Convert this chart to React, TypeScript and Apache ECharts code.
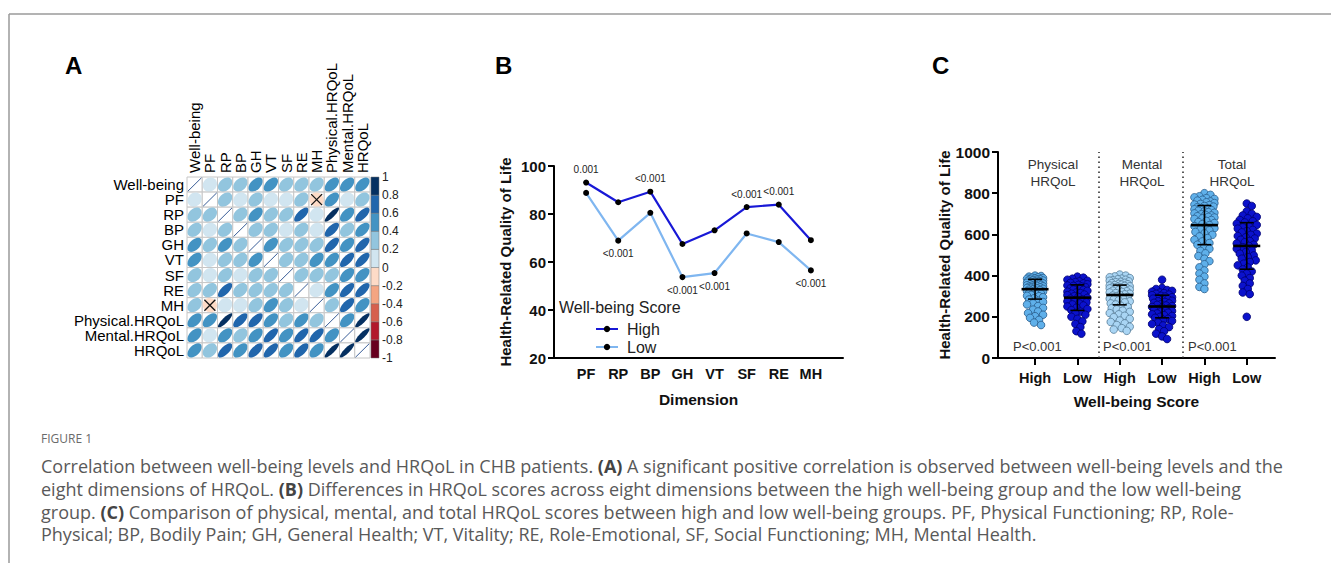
import React, { useEffect, useRef } from "react";
import * as echarts from "echarts";

const SANS = "'Liberation Sans', Arial, Helvetica, sans-serif";
const CAPFONT = "'Open Sans', 'Noto Sans', sans-serif";

// ---------- Panel A : correlation matrix ----------
const corrLabels = ["Well-being", "PF", "RP", "BP", "GH", "VT", "SF", "RE", "MH", "Physical.HRQoL", "Mental.HRQoL", "HRQoL"];
const corrMatrix = [
  [1, 0.12, 0.32, 0.32, 0.48, 0.48, 0.32, 0.32, 0.32, 0.48, 0.48, 0.48],
  [0.12, 1, 0.32, 0.12, 0.3, 0.12, 0.12, 0.3, -0.05, 0.5, 0.12, 0.3],
  [0.32, 0.32, 1, 0.32, 0.48, 0.32, 0.32, 0.68, 0.12, 0.86, 0.5, 0.68],
  [0.32, 0.12, 0.32, 1, 0.3, 0.3, 0.12, 0.3, 0.12, 0.66, 0.34, 0.5],
  [0.48, 0.3, 0.48, 0.3, 1, 0.48, 0.3, 0.3, 0.3, 0.66, 0.5, 0.66],
  [0.48, 0.12, 0.32, 0.3, 0.48, 1, 0.3, 0.3, 0.46, 0.5, 0.68, 0.68],
  [0.32, 0.12, 0.32, 0.12, 0.3, 0.3, 1, 0.3, 0.3, 0.36, 0.5, 0.5],
  [0.32, 0.3, 0.68, 0.3, 0.3, 0.3, 0.3, 1, 0.14, 0.5, 0.68, 0.66],
  [0.32, -0.05, 0.12, 0.12, 0.3, 0.46, 0.3, 0.14, 1, 0.32, 0.68, 0.5],
  [0.48, 0.5, 0.86, 0.66, 0.66, 0.5, 0.36, 0.5, 0.32, 1, 0.5, 0.86],
  [0.48, 0.12, 0.5, 0.34, 0.5, 0.68, 0.5, 0.68, 0.68, 0.5, 1, 0.86],
  [0.48, 0.3, 0.68, 0.5, 0.66, 0.68, 0.5, 0.66, 0.5, 0.86, 0.86, 1],
];
const insignificantPairs = [[1, 8], [8, 1]];
const colorBreaks = [-1, -0.8, -0.6, -0.4, -0.2, 0, 0.2, 0.4, 0.6, 0.8, 1];
const binColors = ["#67001F", "#B2182B", "#D6604D", "#F4A582", "#FDDBC7", "#D1E5F0", "#92C5DE", "#4393C3", "#2166AC", "#053061"];

// ---------- Panel B : line chart ----------
const dimensions = ["PF", "RP", "BP", "GH", "VT", "SF", "RE", "MH"];
const highScores = [93.1, 84.9, 89.3, 67.5, 73.2, 82.9, 83.9, 69.1];
const lowScores = [88.8, 68.9, 80.5, 53.7, 55.4, 71.9, 68.3, 56.5];
const pValues = ["0.001", "<0.001", "<0.001", "<0.001", "<0.001", "<0.001", "<0.001", "<0.001"];
const pLabelOn = ["High", "Low", "High", "Low", "Low", "High", "High", "Low"];

// ---------- Panel C : dot plots ----------
const groupCats = ["High", "Low", "High", "Low", "High", "Low"];
const domainNames = ["Physical\nHRQoL", "Mental\nHRQoL", "Total\nHRQoL"];
const domainPs = ["P<0.001", "P<0.001", "P<0.001"];
const physicalHigh = [400, 398, 395, 392, 390, 388, 386, 385, 383, 381, 380, 378, 376, 375, 373, 372, 370, 368, 366, 365, 363, 362, 360, 358, 356, 355, 353, 351, 350, 348, 346, 345, 343, 341, 340, 338, 336, 334, 332, 330, 328, 326, 324, 322, 320, 318, 315, 312, 310, 306, 302, 300, 295, 290, 284, 278, 272, 265, 260, 252, 243, 235, 226, 218, 210, 203, 195, 185, 172, 160];
const physicalLow = [395, 390, 385, 380, 375, 372, 368, 365, 362, 358, 355, 352, 350, 347, 344, 340, 338, 335, 332, 330, 326, 322, 318, 315, 312, 308, 305, 300, 296, 292, 288, 284, 280, 275, 270, 265, 260, 255, 250, 244, 238, 232, 225, 218, 210, 200, 190, 178, 165, 150, 130, 118];
const mentalHigh = [405, 400, 396, 392, 388, 385, 382, 380, 377, 375, 372, 370, 368, 365, 363, 360, 358, 356, 354, 352, 350, 348, 346, 344, 342, 340, 338, 336, 334, 332, 330, 327, 324, 321, 318, 315, 312, 309, 306, 303, 300, 296, 292, 288, 284, 280, 275, 270, 265, 260, 254, 248, 242, 236, 230, 224, 218, 212, 205, 198, 190, 182, 175, 168, 160, 152, 145, 138, 132];
const mentalLow = [380, 340, 335, 330, 326, 322, 318, 315, 312, 308, 305, 302, 298, 295, 292, 288, 285, 282, 278, 275, 272, 268, 265, 262, 258, 255, 252, 248, 245, 242, 238, 235, 232, 228, 225, 220, 216, 212, 208, 204, 200, 195, 190, 185, 180, 172, 165, 158, 150, 140, 130, 118, 105, 92];
const totalHigh = [800, 792, 785, 780, 776, 772, 768, 764, 760, 756, 752, 748, 745, 742, 738, 735, 732, 728, 725, 722, 718, 715, 712, 708, 705, 702, 698, 695, 692, 688, 685, 682, 678, 675, 670, 665, 660, 655, 650, 645, 640, 635, 630, 625, 620, 612, 605, 598, 590, 582, 574, 566, 558, 550, 540, 530, 520, 508, 495, 482, 470, 455, 440, 425, 410, 395, 380, 362, 345, 335];
const totalLow = [750, 738, 712, 700, 692, 685, 678, 670, 664, 658, 652, 646, 640, 634, 628, 622, 616, 610, 604, 598, 592, 586, 580, 574, 568, 562, 556, 550, 544, 538, 530, 522, 514, 506, 498, 490, 482, 474, 466, 458, 450, 440, 430, 420, 410, 400, 388, 375, 362, 350, 335, 318, 310, 200];
const groupValues = [physicalHigh, physicalLow, mentalHigh, mentalLow, totalHigh, totalLow];
const groupMeans = [334, 293, 306, 250, 645, 544];
const groupSDs = [48, 62, 48, 55, 95, 113];
const groupFill = ["#5fb0ea", "#0b12cc", "#a9d5f4", "#0b12cc", "#5fb0ea", "#0b12cc"];
const groupStroke = ["#2a5d8c", "#000070", "#557c98", "#000070", "#2a5d8c", "#000070"];

// ---------- Caption ----------
const captionTitle = "FIGURE 1";
const captionLines = [
  "Correlation between well-being levels and HRQoL in CHB patients. {b|(A)} A significant positive correlation is observed between well-being levels and the",
  "eight dimensions of HRQoL. {b|(B)} Differences in HRQoL scores across eight dimensions between the high well-being group and the low well-being",
  "group. {b|(C)} Comparison of physical, mental, and total HRQoL scores between high and low well-being groups. PF, Physical Functioning; RP, Role-",
  "Physical; BP, Bodily Pain; GH, General Health; VT, Vitality; RE, Role-Emotional, SF, Social Functioning; MH, Mental Health.",
];

function cellColor(r: number) {
  let i = Math.floor((r + 1) / 0.2);
  if (i > 9) i = 9;
  if (i < 0) i = 0;
  return binColors[i];
}

function renderCell(params: any, api: any) {
  const ci = api.value(0);
  const ri = api.value(1);
  const rho = api.value(2);
  const ins = api.value(3);
  const p = api.coord([ci, ri]);
  const s = api.size([1, 1]);
  const w = s[0];
  const h = s[1];
  const kids: any[] = [
    { type: "rect", shape: { x: p[0] - w / 2, y: p[1] - h / 2, width: w, height: h }, style: { fill: "#fff", stroke: "#c6c6c6", lineWidth: 1 } },
  ];
  if (ci === ri) {
    kids.push({ type: "line", shape: { x1: p[0] - w * 0.45, y1: p[1] + h * 0.45, x2: p[0] + w * 0.45, y2: p[1] - h * 0.45 }, style: { stroke: "#3a5e98", lineWidth: 1 } });
  } else {
    const a = Math.abs(rho);
    kids.push({
      type: "ellipse",
      x: p[0],
      y: p[1],
      rotation: rho >= 0 ? Math.PI / 4 : -Math.PI / 4,
      shape: { cx: 0, cy: 0, rx: w * 0.47 * Math.sqrt(1 + a), ry: h * 0.47 * Math.sqrt(1 - a) },
      style: { fill: cellColor(rho) },
    });
  }
  if (ins) {
    const d = w * 0.36;
    kids.push({ type: "line", shape: { x1: p[0] - d, y1: p[1] - d, x2: p[0] + d, y2: p[1] + d }, style: { stroke: "#111", lineWidth: 1.3 } });
    kids.push({ type: "line", shape: { x1: p[0] - d, y1: p[1] + d, x2: p[0] + d, y2: p[1] - d }, style: { stroke: "#111", lineWidth: 1.3 } });
  }
  return { type: "group", children: kids };
}

function renderBin(params: any, api: any) {
  const lo = api.value(1);
  const hi = api.value(2);
  const idx = api.value(3);
  const a = api.coord([0, lo]);
  const b = api.coord([0, hi]);
  const w = api.size([1, 0])[0];
  return {
    type: "rect",
    shape: { x: a[0] - w / 2, y: b[1], width: w, height: a[1] - b[1] },
    style: { fill: binColors[idx], stroke: "#777", lineWidth: 0.5 },
  };
}

function renderSwarm(params: any, api: any) {
  const gi = params.dataIndex;
  const vals = groupValues[gi].slice().sort((a, b) => b - a);
  const cx = api.coord([gi + 1, 0])[0];
  const r = 3.8;
  const minDist = r * 1.4;
  const maxOff = gi === 0 ? 8.5 : 10;
  const placed: number[][] = [];
  const kids: any[] = [];
  vals.forEach((v, k) => {
    const py = api.coord([gi + 1, v])[1];
    let chosen = 0;
    let bestGap = -1;
    let ok = false;
    for (let s = 0; s <= maxOff && !ok; s += 1) {
      const cands = s === 0 ? [0] : k % 2 ? [s, -s] : [-s, s];
      for (const off of cands) {
        let gap = Infinity;
        for (const q of placed) {
          const dd = Math.hypot(q[0] - off, q[1] - py);
          if (dd < gap) gap = dd;
        }
        if (gap >= minDist) {
          chosen = off;
          ok = true;
          break;
        }
        if (gap > bestGap) {
          bestGap = gap;
          chosen = off;
        }
      }
    }
    placed.push([chosen, py]);
    kids.push({
      type: "circle",
      shape: { cx: cx + chosen, cy: py, r },
      style: { fill: groupFill[gi], stroke: groupStroke[gi], lineWidth: 0.8 },
    });
  });
  return { type: "group", children: kids };
}

function renderMeanSD(params: any, api: any) {
  const x = api.value(0);
  const m = api.value(1);
  const sd = api.value(2);
  const p = api.coord([x, m]);
  const t = api.coord([x, m + sd]);
  const b = api.coord([x, m - sd]);
  const st = { stroke: "#000", lineWidth: 1.6 };
  return {
    type: "group",
    children: [
      { type: "line", shape: { x1: p[0], y1: t[1], x2: p[0], y2: b[1] }, style: st },
      { type: "line", shape: { x1: p[0] - 7, y1: t[1], x2: p[0] + 7, y2: t[1] }, style: st },
      { type: "line", shape: { x1: p[0] - 7, y1: b[1], x2: p[0] + 7, y2: b[1] }, style: st },
      { type: "line", shape: { x1: p[0] - 13.5, y1: p[1], x2: p[0] + 13.5, y2: p[1] }, style: { stroke: "#000", lineWidth: 2.6 } },
    ],
  };
}

function buildOption(): any {
  const cellData: any[] = [];
  corrMatrix.forEach((row, ri) =>
    row.forEach((v, ci) => {
      const ins = insignificantPairs.some((q) => q[0] === ri && q[1] === ci) ? 1 : 0;
      cellData.push([ci, ri, v, ins]);
    })
  );
  const binData = binColors.map((c, i) => [0, colorBreaks[i], colorBreaks[i + 1], i]);

  const axisBlack = { lineStyle: { color: "#000", width: 2 } };
  const boldTick = { fontFamily: SANS, fontWeight: "bold", color: "#111" };

  const lineData = (vals: number[], who: string) => [
    "-",
    ...vals.map((v, i) => ({
      value: v,
      label: { show: pLabelOn[i] === who, position: who === "High" ? "top" : "bottom", formatter: pValues[i] },
    })),
    "-",
  ];

  const graphic: any[] = [
    { type: "line", shape: { x1: 9, y1: 14, x2: 1331, y2: 14 }, style: { stroke: "#9a9a9a", lineWidth: 1.5 } },
    { type: "line", shape: { x1: 9, y1: 14, x2: 9, y2: 563 }, style: { stroke: "#9a9a9a", lineWidth: 1.5 } },
    { type: "text", x: 65, y: 65, style: { text: "A", fontSize: 24, fontWeight: "bold", fontFamily: SANS, fill: "#000", verticalAlign: "middle" } },
    { type: "text", x: 495, y: 65, style: { text: "B", fontSize: 24, fontWeight: "bold", fontFamily: SANS, fill: "#000", verticalAlign: "middle" } },
    { type: "text", x: 932, y: 65, style: { text: "C", fontSize: 24, fontWeight: "bold", fontFamily: SANS, fill: "#000", verticalAlign: "middle" } },
    { type: "text", x: 559, y: 307, style: { text: "Well-being Score", fontSize: 16, fontFamily: SANS, fill: "#222", verticalAlign: "middle" } },
    { type: "text", x: 41, y: 438, style: { text: captionTitle, fontSize: 12, fontFamily: CAPFONT, fill: "#6a6a6a", verticalAlign: "middle" } },
  ];
  const domainX = [1053, 1142, 1232];
  domainNames.forEach((t, i) =>
    graphic.push({ type: "text", x: domainX[i], y: 156, style: { text: t, fontSize: 13.5, fontFamily: SANS, fill: "#333", align: "center", verticalAlign: "top", lineHeight: 17 } })
  );
  const pX = [1013, 1103, 1188];
  domainPs.forEach((t, i) =>
    graphic.push({ type: "text", x: pX[i], y: 346, style: { text: t, fontSize: 13, fontFamily: SANS, fill: "#333", verticalAlign: "middle" } })
  );
  const capY = [466, 489, 512, 534];
  captionLines.forEach((t, i) =>
    graphic.push({
      type: "text",
      x: 41,
      y: capY[i],
      style: {
        text: t,
        fontSize: 18,
        fontFamily: CAPFONT,
        fill: "#595959",
        verticalAlign: "middle",
        rich: { b: { fontSize: 18, fontFamily: CAPFONT, fontWeight: "bold", fill: "#444", color: "#444" } },
      },
    })
  );

  return {
    animation: false,
    backgroundColor: "#fff",
    tooltip: { show: false },
    grid: [
      { left: 187, top: 177, width: 183, height: 181, outerBoundsMode: "none" },
      { left: 371, top: 177, width: 8, height: 181, outerBoundsMode: "none" },
      { left: 554, top: 166, width: 289, height: 192, outerBoundsMode: "none" },
      { left: 998, top: 152, width: 277, height: 206, outerBoundsMode: "none" },
    ],
    xAxis: [
      {
        type: "category", gridIndex: 0, data: corrLabels, position: "top",
        axisLine: { show: false }, axisTick: { show: false }, splitLine: { show: false },
        axisLabel: { rotate: -90, margin: 4, fontSize: 15, fontFamily: SANS, color: "#000", interval: 0 },
      },
      { type: "category", gridIndex: 1, data: ["bar"], show: false },
      {
        type: "category", gridIndex: 2, data: ["", ...dimensions, ""], boundaryGap: false,
        axisLine: axisBlack, axisTick: { show: false }, splitLine: { show: false },
        axisLabel: { ...boldTick, fontSize: 14.5, margin: 8, interval: 0 },
        name: "Dimension", nameLocation: "middle", nameGap: 33,
        nameTextStyle: { fontFamily: SANS, fontWeight: "bold", fontSize: 15.5, color: "#111" },
      },
      {
        type: "value", gridIndex: 3, min: 0.125, max: 6.667,
        axisLine: axisBlack, splitLine: { show: false },
        axisTick: { show: true, customValues: [1, 2, 3, 4, 5, 6], length: 7, lineStyle: { color: "#000", width: 2 } },
        axisLabel: { ...boldTick, fontSize: 14.5, margin: 12, customValues: [1, 2, 3, 4, 5, 6], formatter: (v: number) => groupCats[Math.round(v) - 1] },
        name: "Well-being Score", nameLocation: "middle", nameGap: 35,
        nameTextStyle: { fontFamily: SANS, fontWeight: "bold", fontSize: 15.5, color: "#111" },
      },
    ],
    yAxis: [
      {
        type: "category", gridIndex: 0, data: corrLabels, inverse: true,
        axisLine: { show: false }, axisTick: { show: false }, splitLine: { show: false },
        axisLabel: { margin: 3, fontSize: 15, fontFamily: SANS, color: "#000", interval: 0 },
      },
      {
        type: "value", gridIndex: 1, min: -1, max: 1, interval: 0.2, position: "right",
        axisLine: { show: false }, axisTick: { show: false }, splitLine: { show: false },
        axisLabel: { margin: 3, fontSize: 12, fontFamily: SANS, color: "#222", formatter: (v: number) => String(Math.round(v * 10) / 10) },
      },
      {
        type: "value", gridIndex: 2, min: 20, max: 100, interval: 20,
        axisLine: { show: true, ...axisBlack }, splitLine: { show: false },
        axisTick: { show: true, length: 6, lineStyle: { color: "#000", width: 2 } },
        axisLabel: { ...boldTick, fontSize: 15, margin: 8 },
        name: "Health-Related Quality of Life", nameLocation: "middle", nameGap: 41, nameRotate: 90,
        nameTextStyle: { fontFamily: SANS, fontWeight: "bold", fontSize: 15, color: "#111" },
      },
      {
        type: "value", gridIndex: 3, min: 0, max: 1000, interval: 200,
        axisLine: { show: true, ...axisBlack }, splitLine: { show: false },
        axisTick: { show: true, length: 6, lineStyle: { color: "#000", width: 2 } },
        axisLabel: { ...boldTick, fontSize: 15.5, margin: 8, formatter: (v: number) => String(v) },
        name: "Health-Related Quality of Life", nameLocation: "middle", nameGap: 45, nameRotate: 90,
        nameTextStyle: { fontFamily: SANS, fontWeight: "bold", fontSize: 15, color: "#111" },
      },
    ],
    legend: {
      data: ["High", "Low"], left: 590, top: 316, orient: "vertical",
      itemWidth: 22, itemHeight: 8, itemGap: 2,
      textStyle: { fontSize: 16, fontFamily: SANS, color: "#222", padding: [0, 0, 0, 4] },
    },
    series: [
      { type: "custom", name: "corr", xAxisIndex: 0, yAxisIndex: 0, data: cellData, renderItem: renderCell, silent: true },
      { type: "custom", name: "colorbar", xAxisIndex: 1, yAxisIndex: 1, data: binData, renderItem: renderBin, silent: true },
      {
        type: "line", name: "High", xAxisIndex: 2, yAxisIndex: 2, data: lineData(highScores, "High"),
        symbol: "circle", symbolSize: 6, itemStyle: { color: "#000" }, lineStyle: { color: "#1818d6", width: 2.2 },
        label: { fontSize: 10, color: "#222", fontFamily: SANS, distance: 5 }, z: 3,
      },
      {
        type: "line", name: "Low", xAxisIndex: 2, yAxisIndex: 2, data: lineData(lowScores, "Low"),
        symbol: "circle", symbolSize: 6, itemStyle: { color: "#000" }, lineStyle: { color: "#7fb6f0", width: 2.2 },
        label: { fontSize: 10, color: "#222", fontFamily: SANS, distance: 5 }, z: 2,
      },
      {
        type: "custom", name: "dots", xAxisIndex: 3, yAxisIndex: 3,
        data: groupCats.map((g, i) => [i + 1, groupMeans[i]]), renderItem: renderSwarm, silent: true,
      },
      {
        type: "custom", name: "meanSD", xAxisIndex: 3, yAxisIndex: 3,
        data: groupCats.map((g, i) => [i + 1, groupMeans[i], groupSDs[i]]), renderItem: renderMeanSD, silent: true,
        markLine: {
          silent: true, symbol: "none", label: { show: false },
          lineStyle: { color: "#222", width: 1.5, type: [1.5, 3.5] },
          data: [{ xAxis: 2.5 }, { xAxis: 4.5 }],
        },
      },
    ],
    graphic,
  };
}

export default function App() {
  const ref = useRef<HTMLDivElement>(null);
  useEffect(() => {
    document.body.style.margin = "0";
    const chart = echarts.init(ref.current as HTMLDivElement, null, { renderer: "svg" });
    chart.setOption(buildOption());
    return () => chart.dispose();
  }, []);
  return <div ref={ref} style={{ width: 1331, height: 566, background: "#fff" }} />;
}
